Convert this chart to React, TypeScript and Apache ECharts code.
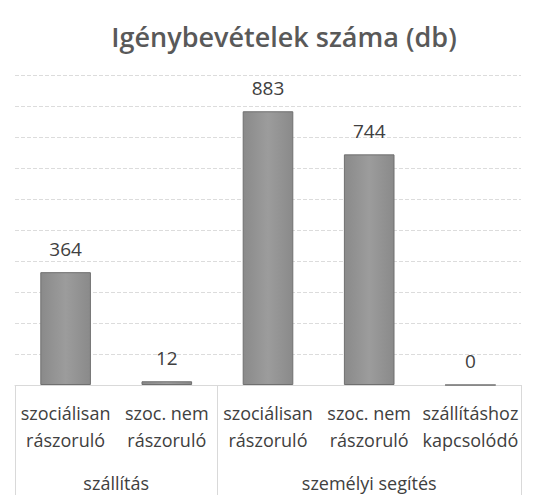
import React, { useEffect, useRef } from "react";
import * as echarts from "echarts";

const title = "Igénybevételek száma (db)";
const categories = [
  "szociálisan\nrászoruló",
  "szoc. nem\nrászoruló",
  "szociálisan\nrászoruló",
  "szoc. nem\nrászoruló",
  "szállításhoz\nkapcsolódó",
];
const values = [364, 12, 883, 744, 0];
const groupNames = ["szállítás", "személyi segítés"];
const groupCenters = [0.5, 3];
const groupBounds = [-0.5, 1.5, 4.5];
const yMax = 1000;
const yInterval = 100;

const FONT = "'Open Sans', 'Noto Sans', sans-serif";

export default function App() {
  const ref = useRef<HTMLDivElement>(null);
  useEffect(() => {
    if (!ref.current) return;
    const chart = echarts.init(ref.current, undefined, { renderer: "svg" });
    chart.setOption({
      animation: false,
      backgroundColor: "#ffffff",
      title: {
        text: title,
        left: 279,
        textAlign: "center",
        top: 18,
        textStyle: { fontFamily: FONT, fontSize: 27, fontWeight: 600, color: "#595959" },
      },
      grid: { left: 15, right: 24, top: 75, bottom: 110, outerBoundsMode: "none" },
      xAxis: [
        {
          type: "category",
          data: categories,
          position: "bottom",
          axisLine: { show: true, lineStyle: { color: "#d9d9d9" } },
          axisTick: { show: false },
          axisLabel: {
            interval: 0,
            margin: 14,
            fontFamily: FONT,
            fontSize: 18,
            lineHeight: 27,
            color: "#404040",
          },
        },
        {
          type: "value",
          min: -0.5,
          max: 4.5,
          position: "bottom",
          axisLine: { show: false },
          splitLine: { show: false },
          axisTick: {
            show: true,
            customValues: groupBounds,
            length: 115,
            lineStyle: { color: "#d9d9d9" },
          },
          axisLabel: {
            customValues: groupCenters,
            margin: 86,
            fontFamily: FONT,
            fontSize: 18,
            lineHeight: 24,
            color: "#404040",
            formatter: (v: number) => {
              const i = groupCenters.indexOf(v);
              return i >= 0 ? groupNames[i] : "";
            },
          },
        },
      ],
      yAxis: {
        type: "value",
        min: 0,
        max: yMax,
        interval: yInterval,
        axisLabel: { show: false },
        axisLine: { show: false },
        axisTick: { show: false },
        splitLine: { lineStyle: { color: "#dcdcdc", type: [4, 2] } },
      },
      series: [
        {
          type: "bar",
          data: values,
          xAxisIndex: 0,
          barWidth: "50%",
          itemStyle: {
            color: new echarts.graphic.LinearGradient(0, 0, 1, 0, [
              { offset: 0, color: "#8a8a8a" },
              { offset: 0.5, color: "#9c9c9c" },
              { offset: 1, color: "#8a8a8a" },
            ]),
            borderColor: "#6f6f6f",
            borderWidth: 1,
          },
          label: {
            show: true,
            position: "top",
            distance: 14,
            fontFamily: FONT,
            fontSize: 19,
            color: "#404040",
          },
        },
      ],
    });
    return () => chart.dispose();
  }, []);
  return <div ref={ref} style={{ width: 545, height: 495, position: "absolute", left: 0, top: 0 }} />;
}
